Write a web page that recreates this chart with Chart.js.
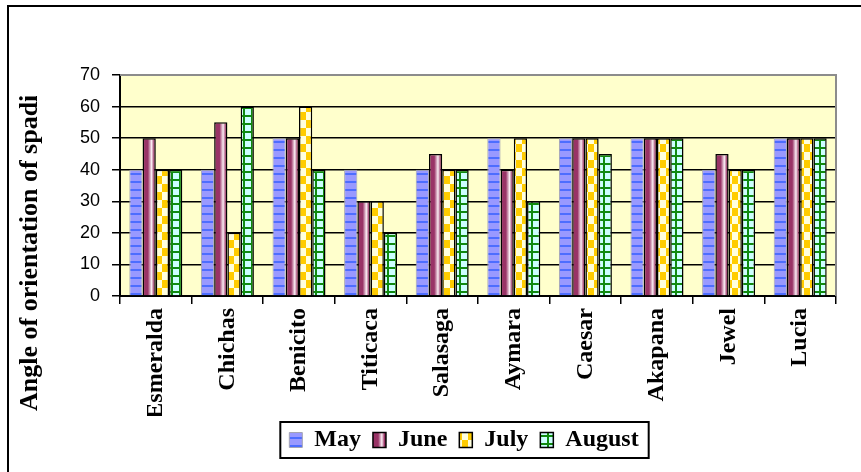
<!DOCTYPE html>
<html>
<head>
<meta charset="utf-8">
<script src="https://cdn.jsdelivr.net/npm/chart.js@4"></script>
<style>
  html, body { margin: 0; padding: 0; background: #fff; }
  #frame { position: absolute; left: 7px; top: 5px; width: 860px; height: 470px;
           border-top: 2px solid #000; border-left: 2px solid #000; box-sizing: border-box; }
  #chart { position: absolute; left: 0; top: 0; }
</style>
</head>
<body>
<div id="frame"></div>
<canvas id="chart" width="861" height="472"></canvas>
<script>
const sites = ['Esmeralda', 'Chichas', 'Benicito', 'Titicaca', 'Salasaga',
               'Aymara', 'Caesar', 'Akapana', 'Jewel', 'Lucia']
const may    = [40, 40, 50, 40, 40, 50, 50, 50, 40, 50]
const june   = [50, 55, 50, 30, 45, 40, 50, 50, 45, 50]
const july   = [40, 20, 60, 30, 40, 50, 50, 50, 40, 50]
const august = [40, 60, 40, 20, 40, 30, 45, 50, 40, 50]
const y_ticks = [0, 10, 20, 30, 40, 50, 60, 70]
const y_title = 'Angle of orientation of spadix'

const cat_pct = 0.74
const maroon = '#993366'

// little tiles for the excel style fills
function make_pattern(w, h, paint) {
    const c = document.createElement('canvas')
    c.width = w
    c.height = h
    paint(c.getContext('2d'))
    return c.getContext('2d').createPattern(c, 'repeat')
}

const stripes = make_pattern(8, 8, g => {
    g.fillStyle = '#9999ff'
    g.fillRect(0, 0, 8, 8)
    g.fillStyle = '#4d6dff'
    g.fillRect(0, 5, 8, 2)
})

const checks = make_pattern(12, 16, g => {
    g.fillStyle = '#ffffdd'
    g.fillRect(0, 0, 12, 16)
    g.fillStyle = '#ffcc00'
    g.fillRect(0, 0, 6, 8)
    g.fillRect(6, 8, 6, 8)
})

const grid = make_pattern(8, 8, g => {
    g.fillStyle = '#ccffff'
    g.fillRect(0, 0, 8, 8)
    g.fillStyle = '#108a10'
    g.fillRect(3, 0, 2, 8)
    g.fillRect(0, 3, 8, 2)
})

function june_gradient(ctx, left, w) {
    const g = ctx.createLinearGradient(left, 0, left + w, 0)
    g.addColorStop(0, maroon)
    g.addColorStop(0.4, maroon)
    g.addColorStop(0.68, '#fbeef4')
    g.addColorStop(0.88, maroon)
    g.addColorStop(1, maroon)
    return g
}

function june_fill(c) {
    const chart = c.chart
    const xs = chart.scales.x
    if (c.type !== 'data' || !xs || !chart.chartArea) return maroon
    const cw = xs.width / sites.length
    const size = cw * cat_pct
    const chunk = size / 4
    const left = xs.getPixelForValue(c.dataIndex) - size / 2 + chunk
    return june_gradient(chart.ctx, left, chunk)
}

const plot_bg = {
    id: 'plot_bg',
    afterLayout(chart) {
        // y scale is kept narrow so the legend sits where it should;
        // widen it back so its labels aren't clipped
        const ys = chart.scales.y
        ys.width = ys.right
        ys.left = 0
    },
    beforeDraw(chart) {
        const a = chart.chartArea
        const ctx = chart.ctx
        ctx.save()
        ctx.fillStyle = '#ffffcc'
        ctx.fillRect(a.left, a.top, a.right - a.left, a.bottom - a.top)
        ctx.restore()

        // june legend swatch needs its gradient where the box really is
        const lg = chart.legend
        if (lg && lg.legendHitBoxes && lg.legendHitBoxes[1]) {
            const hb = lg.legendHitBoxes[1]
            lg.legendItems[1].fillStyle = june_gradient(ctx, hb.left, lg.options.labels.boxWidth)
        }
    },
    afterDraw(chart) {
        const a = chart.chartArea
        const ctx = chart.ctx
        ctx.save()
        ctx.strokeStyle = '#8c8c8c'
        ctx.lineWidth = 2
        ctx.beginPath()
        ctx.moveTo(a.left, a.top)
        ctx.lineTo(a.right, a.top)
        ctx.lineTo(a.right, a.bottom)
        ctx.stroke()

        // frame around the legend
        const hb = chart.legend.legendHitBoxes
        if (hb && hb.length) {
            const last = hb[hb.length - 1]
            const l = hb[0].left - 9
            const r = last.left + last.width + 10
            const t = hb[0].top - 6
            const b = hb[0].top + hb[0].height + 6
            ctx.strokeStyle = '#000'
            ctx.lineWidth = 2
            ctx.strokeRect(l, t, r - l, b - t)
        }

        // axis title, cut off at the top like the original
        ctx.beginPath()
        ctx.rect(0, 96, 110, 376)
        ctx.clip()
        ctx.translate(37, 411)
        ctx.rotate(-Math.PI / 2)
        ctx.fillStyle = '#000'
        ctx.font = 'bold 26px "Liberation Serif"'
        ctx.textAlign = 'left'
        ctx.textBaseline = 'alphabetic'
        ctx.fillText(y_title, 0, 0)
        ctx.restore()
    }
}

const data = {
    labels: sites,
    datasets: [
        { label: 'May', data: may, backgroundColor: stripes, borderColor: '#a4a4b4', borderWidth: 1 },
        { label: 'June', data: june, backgroundColor: june_fill, borderColor: '#000', borderWidth: 1.5 },
        { label: 'July', data: july, backgroundColor: checks, borderColor: '#000', borderWidth: 1.5 },
        { label: 'August', data: august, backgroundColor: grid, borderColor: '#000', borderWidth: 1.5 }
    ]
}

new Chart(document.getElementById('chart'), {
    type: 'bar',
    data: data,
    options: {
        responsive: false,
        animation: false,
        events: [],
        datasets: { bar: { categoryPercentage: cat_pct, barPercentage: 1 } },
        layout: { padding: { left: 92, top: 75, right: 25, bottom: 10 } },
        plugins: {
            tooltip: { enabled: false },
            legend: {
                position: 'bottom',
                labels: {
                    color: '#000',
                    boxWidth: 13,
                    boxHeight: 15,
                    padding: 12,
                    font: { family: '"Liberation Serif"', size: 24, weight: 'bold' }
                }
            }
        },
        scales: {
            x: {
                afterFit: s => { s.height = 120 },
                grid: { offset: true, drawOnChartArea: false, color: '#000', lineWidth: 1.5, tickLength: 8 },
                border: { color: '#000', width: 2 },
                ticks: {
                    color: '#000',
                    autoSkip: false,
                    minRotation: 90,
                    maxRotation: 90,
                    padding: 4,
                    font: { family: '"Liberation Serif"', size: 24, weight: 'bold' }
                }
            },
            y: {
                min: 0,
                max: 70,
                afterFit: s => { s.width = 28 },
                afterBuildTicks: s => { s.ticks = y_ticks.map(v => ({ value: v })) },
                grid: { color: '#000', lineWidth: 1.5, tickLength: 8 },
                border: { color: '#000', width: 2 },
                ticks: {
                    color: '#000',
                    padding: 12,
                    font: { family: '"Liberation Sans"', size: 18 }
                }
            }
        }
    },
    plugins: [plot_bg]
})
</script>
</body>
</html>
